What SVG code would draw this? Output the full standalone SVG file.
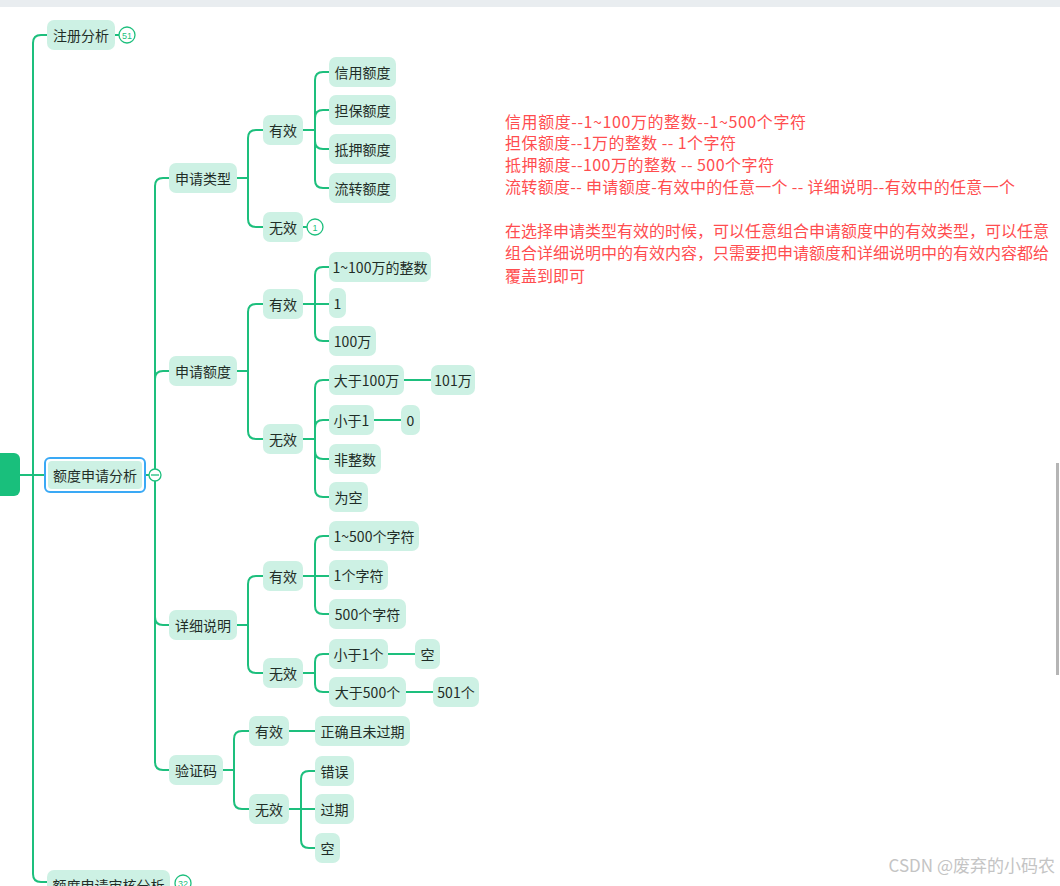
<svg xmlns="http://www.w3.org/2000/svg" width="1060" height="886" viewBox="0 0 1060 886">
<style>
.n rect{fill:#cdf1e4;}
.n text{font-family:"Noto Sans CJK SC","Liberation Sans",sans-serif;font-size:14px;fill:#1f2d27;text-anchor:middle;dominant-baseline:central;}
.c path{fill:none;stroke:#1dbf7d;stroke-width:2;}
.b circle{fill:#fff;stroke:#1dbf7d;stroke-width:1.3;}
.b text{font-family:"Liberation Sans",sans-serif;font-size:9px;fill:#1dbf7d;text-anchor:middle;dominant-baseline:central;}
.note{font-family:"Noto Sans CJK SC","Liberation Sans",sans-serif;font-size:16px;fill:#ff4d4f;}
</style>
<rect x="0" y="0" width="1060" height="886" fill="#fff"/>
<rect x="0" y="0" width="1060" height="7" fill="#e9edf0"/>
<g class="c" id="connectors">
<path d="M20 475 H45"/>
<path d="M33 475 V43 Q33 35 41 35 H47"/>
<path d="M33 475 V874 Q33 882 41 882 H47"/>
<path d="M115 35 H119"/>
<path d="M145 475 H149"/>
<path d="M155 475 V186 Q155 178 163 178 H169"/>
<path d="M155 475 V379 Q155 371 163 371 H169"/>
<path d="M155 475 V617 Q155 625 163 625 H169"/>
<path d="M155 475 V762 Q155 770 163 770 H169"/>
<path d="M237 178 H248"/>
<path d="M248 178 V138 Q248 130 256 130 H263"/>
<path d="M248 178 V219 Q248 227 256 227 H263"/>
<path d="M303 227 H307"/>
<path d="M303 130 H315"/>
<path d="M315 130 V80 Q315 72 323 72 H329"/>
<path d="M315 130 V118 Q315 110 323 110 H329"/>
<path d="M315 130 V141 Q315 149 323 149 H329"/>
<path d="M315 130 V180 Q315 188 323 188 H329"/>
<path d="M237 371 H248"/>
<path d="M248 371 V312 Q248 304 256 304 H263"/>
<path d="M248 371 V431 Q248 439 256 439 H263"/>
<path d="M303 304 H329"/>
<path d="M315 304 V275 Q315 267 323 267 H329"/>
<path d="M315 304 V333 Q315 341 323 341 H329"/>
<path d="M303 439 H315"/>
<path d="M315 439 V388 Q315 380 323 380 H329"/>
<path d="M315 439 V428 Q315 420 323 420 H329"/>
<path d="M315 439 V451 Q315 459 323 459 H329"/>
<path d="M315 439 V489 Q315 497 323 497 H329"/>
<path d="M404 380 H431"/>
<path d="M374 420 H401"/>
<path d="M237 625 H248"/>
<path d="M248 625 V584 Q248 576 256 576 H263"/>
<path d="M248 625 V665 Q248 673 256 673 H263"/>
<path d="M303 576 H329"/>
<path d="M315 576 V544 Q315 536 323 536 H329"/>
<path d="M315 576 V606 Q315 614 323 614 H329"/>
<path d="M303 673 H315"/>
<path d="M315 673 V662 Q315 654 323 654 H329"/>
<path d="M315 673 V684 Q315 692 323 692 H329"/>
<path d="M388 654 H415"/>
<path d="M406 692 H433"/>
<path d="M223 770 H234"/>
<path d="M234 770 V739 Q234 731 242 731 H249"/>
<path d="M234 770 V801 Q234 809 242 809 H249"/>
<path d="M289 731 H315"/>
<path d="M289 809 H315"/>
<path d="M301 809 V779 Q301 771 309 771 H315"/>
<path d="M301 809 V840 Q301 848 309 848 H315"/>
</g>
<g id="root"><rect x="-20" y="453" width="40" height="43" rx="6" fill="#19bf7c"/></g>
<g class="n" id="n-zhuce"><rect x="47" y="20" width="68" height="30" rx="7"/><text x="81" y="35">注册分析</text></g>
<g class="b" id="badge-51"><circle cx="127" cy="35" r="8"/><text x="127" y="35.5">51</text></g>
<g class="n" id="n-edu"><rect x="45" y="458" width="100" height="34" rx="5" fill="#fff" stroke="#3aa9f5" stroke-width="2" style="fill:#fff"/><rect x="48" y="461" width="94" height="28" rx="4"/><text x="95" y="475">额度申请分析</text></g>
<g class="b" id="collapse"><circle cx="155" cy="475" r="6"/><path d="M151 475 H159" stroke="#1dbf7d" stroke-width="1.3"/></g>
<g class="n" id="n-shenhe"><rect x="47" y="870" width="123" height="30" rx="7"/><text x="108.5" y="885">额度申请审核分析</text></g>
<g class="b" id="badge-32"><circle cx="183" cy="883" r="8"/><text x="183" y="883.5">32</text></g>
<g class="n" id="n-sqlx"><rect x="169" y="163" width="68" height="30" rx="7"/><text x="203" y="178">申请类型</text></g>
<g class="n" id="n-sqlx-yx"><rect x="263" y="115" width="40" height="30" rx="7"/><text x="283" y="130">有效</text></g>
<g class="n" id="n-sqlx-wx"><rect x="263" y="212" width="40" height="30" rx="7"/><text x="283" y="227">无效</text></g>
<g class="b" id="badge-1"><circle cx="315" cy="227" r="8"/><text x="315" y="227.5">1</text></g>
<g class="n" id="n-xyed"><rect x="329" y="57" width="67" height="30" rx="7"/><text x="362.5" y="72">信用额度</text></g>
<g class="n" id="n-dbed"><rect x="329" y="95" width="67" height="30" rx="7"/><text x="362.5" y="110">担保额度</text></g>
<g class="n" id="n-dyed"><rect x="329" y="134" width="67" height="30" rx="7"/><text x="362.5" y="149">抵押额度</text></g>
<g class="n" id="n-lzed"><rect x="329" y="173" width="67" height="30" rx="7"/><text x="362.5" y="188">流转额度</text></g>
<g class="n" id="n-sqed"><rect x="169" y="356" width="68" height="30" rx="7"/><text x="203" y="371">申请额度</text></g>
<g class="n" id="n-sqed-yx"><rect x="263" y="289" width="40" height="30" rx="7"/><text x="283" y="304">有效</text></g>
<g class="n" id="n-sqed-wx"><rect x="263" y="424" width="40" height="30" rx="7"/><text x="283" y="439">无效</text></g>
<g class="n" id="n-1-100w"><rect x="329" y="252" width="102" height="30" rx="7"/><text x="380" y="267">1~100万的整数</text></g>
<g class="n" id="n-1"><rect x="329" y="288" width="17" height="30" rx="7"/><text x="337.5" y="303">1</text></g>
<g class="n" id="n-100w"><rect x="329" y="326" width="47" height="30" rx="7"/><text x="352.5" y="341">100万</text></g>
<g class="n" id="n-dy100w"><rect x="329" y="365" width="75" height="30" rx="7"/><text x="366.5" y="380">大于100万</text></g>
<g class="n" id="n-101w"><rect x="431" y="365" width="44" height="30" rx="7"/><text x="453" y="380">101万</text></g>
<g class="n" id="n-xy1"><rect x="329" y="405" width="45" height="30" rx="7"/><text x="351.5" y="420">小于1</text></g>
<g class="n" id="n-0"><rect x="401" y="405" width="19" height="30" rx="7"/><text x="410.5" y="420">0</text></g>
<g class="n" id="n-fzs"><rect x="329" y="444" width="52" height="30" rx="7"/><text x="355" y="459">非整数</text></g>
<g class="n" id="n-wk"><rect x="329" y="482" width="39" height="30" rx="7"/><text x="348.5" y="497">为空</text></g>
<g class="n" id="n-xxsm"><rect x="169" y="610" width="68" height="30" rx="7"/><text x="203" y="625">详细说明</text></g>
<g class="n" id="n-xxsm-yx"><rect x="263" y="561" width="40" height="30" rx="7"/><text x="283" y="576">有效</text></g>
<g class="n" id="n-xxsm-wx"><rect x="263" y="658" width="40" height="30" rx="7"/><text x="283" y="673">无效</text></g>
<g class="n" id="n-1-500"><rect x="329" y="521" width="90" height="30" rx="7"/><text x="374" y="536">1~500个字符</text></g>
<g class="n" id="n-1gzf"><rect x="329" y="560" width="59" height="30" rx="7"/><text x="358.5" y="575">1个字符</text></g>
<g class="n" id="n-500gzf"><rect x="329" y="599" width="77" height="30" rx="7"/><text x="367.5" y="614">500个字符</text></g>
<g class="n" id="n-xy1g"><rect x="329" y="639" width="59" height="30" rx="7"/><text x="358.5" y="654">小于1个</text></g>
<g class="n" id="n-kong1"><rect x="415" y="639" width="25" height="30" rx="7"/><text x="427.5" y="654">空</text></g>
<g class="n" id="n-dy500g"><rect x="329" y="677" width="77" height="30" rx="7"/><text x="367.5" y="692">大于500个</text></g>
<g class="n" id="n-501g"><rect x="433" y="677" width="46" height="30" rx="7"/><text x="456" y="692">501个</text></g>
<g class="n" id="n-yzm"><rect x="169" y="755" width="54" height="30" rx="7"/><text x="196" y="770">验证码</text></g>
<g class="n" id="n-yzm-yx"><rect x="249" y="716" width="40" height="30" rx="7"/><text x="269" y="731">有效</text></g>
<g class="n" id="n-yzm-wx"><rect x="249" y="794" width="40" height="30" rx="7"/><text x="269" y="809">无效</text></g>
<g class="n" id="n-zqqwgq"><rect x="315" y="716" width="95" height="30" rx="7"/><text x="362.5" y="731">正确且未过期</text></g>
<g class="n" id="n-cw"><rect x="315" y="756" width="39" height="30" rx="7"/><text x="334.5" y="771">错误</text></g>
<g class="n" id="n-gq"><rect x="315" y="794" width="39" height="30" rx="7"/><text x="334.5" y="809">过期</text></g>
<g class="n" id="n-kong2"><rect x="315" y="833" width="25" height="30" rx="7"/><text x="327.5" y="848">空</text></g>
<g id="notes">
<text class="note" x="505" y="128" textLength="301" lengthAdjust="spacing">信用额度--1~100万的整数--1~500个字符</text>
<text class="note" x="505" y="149" textLength="231" lengthAdjust="spacing">担保额度--1万的整数 -- 1个字符</text>
<text class="note" x="505" y="171" textLength="269" lengthAdjust="spacing">抵押额度--100万的整数 -- 500个字符</text>
<text class="note" x="505" y="193" textLength="510" lengthAdjust="spacing">流转额度-- 申请额度-有效中的任意一个 -- 详细说明--有效中的任意一个</text>
<text class="note" x="505" y="237">在选择申请类型有效的时候，可以任意组合申请额度中的有效类型，可以任意</text>
<text class="note" x="505" y="259">组合详细说明中的有效内容，只需要把申请额度和详细说明中的有效内容都给</text>
<text class="note" x="505" y="282">覆盖到即可</text>
</g>
<text x="1055" y="872" text-anchor="end" font-family="Noto Sans CJK SC,Liberation Sans,sans-serif" font-size="17" fill="#c4c4c4">CSDN @废弃的小码农</text>
<rect x="1056" y="463" width="3" height="212" fill="#b5b5b5"/>
</svg>
